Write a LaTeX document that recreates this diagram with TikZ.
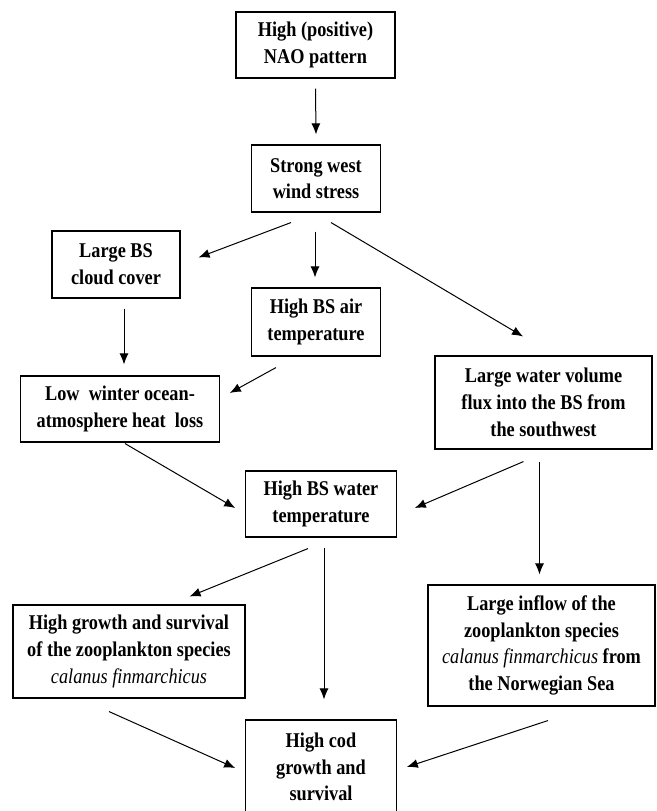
\documentclass[tikz,border=0pt]{standalone}
\usepackage{fontspec}
\setmainfont{Liberation Serif}[FakeStretch=0.87]
\usetikzlibrary{arrows.meta,calc}
\begin{document}
\begin{tikzpicture}[x=1pt,y=-1pt,
  box/.style={draw, line width=1.1pt, inner sep=0pt, align=center,
    font=\fontsize{21}{26.7}\selectfont\bfseries},
  arr/.style={line width=1pt, -{Latex[length=11pt,width=9pt]}}]
\clip (0,0) rectangle (656,811);
\fill[white] (0,0) rectangle (656,811);
\node[box, minimum width=159pt, minimum height=66pt] (nao) at (315.5,45) {High (positive)\\NAO pattern};
\node[box, minimum width=128.5pt, minimum height=67pt] (ws) at (316,178.5) {Strong west\\wind stress};
\node[box, minimum width=128pt, minimum height=67pt] (cloud) at (116,264.5) {Large BS\\cloud cover};
\node[box, minimum width=128.5pt, minimum height=68pt] (air) at (316,322) {High BS air\\temperature};
\node[box, minimum width=199.5pt, minimum height=66pt] (low) at (120,409) {Low\ \ winter ocean-\\atmosphere heat\ \ loss};
\node[box, minimum width=217pt, minimum height=93pt] (wv) at (543.5,402.5) {Large water volume\\flux into the BS from\\the southwest};
\node[box, minimum width=151.5pt, minimum height=66pt] (wt) at (321,504) {High BS water\\temperature};
\node[box, minimum width=232pt, minimum height=93pt] (gr) at (129,651.5) {High growth and survival\\of the zooplankton species\\{\mdseries\itshape calanus finmarchicus}};
\node[box, minimum width=227pt, minimum height=121pt] (inf) at (541.5,645.5) {Large inflow of the\\zooplankton species\\{\mdseries\itshape calanus finmarchicus} from\\the Norwegian Sea};
\node[box, minimum width=151.5pt, minimum height=94pt] (cod) at (321,767) {High cod\\growth and\\survival};
\draw[arr] ($(nao.south)+(0,10)$) -- ($(ws.north)+(0,-10)$);
\draw[arr] ($(ws.south)+(-25,10)$) -- ($(cloud.north east)+(18,27)$);
\draw[arr] ($(ws.south)+(-1,19)$) -- ($(air.north)+(-1,-10)$);
\draw[arr] ($(ws.south)+(15,10)$) -- ($(wv.north)+(-20.5,-19)$);
\draw[arr] ($(cloud.south)+(8,10)$) -- ($(low.north)+(4,-11)$);
\draw[arr] ($(air.south)+(-40,11)$) -- ($(low.east)+(9.5,-16)$);
\draw[arr] ($(low.south)+(5,1)$) -- ($(wt.west)+(-9.5,4)$);
\draw[arr] ($(wv.south)+(-20,12)$) -- ($(wt.east)+(17.5,4)$);
\draw[arr] ($(wv.south)+(-4,12)$) -- ($(inf.north)+(-2,-10)$);
\draw[arr] ($(wt.south)+(-13,11)$) -- ($(gr.north east)+(-56,-8)$);
\draw[arr] ($(wt.south)+(3,10)$) -- ($(cod.north)+(3,-20)$);
\draw[arr] ($(gr.south)+(-20,13)$) -- ($(cod.west)+(-9.5,1)$);
\draw[arr] ($(inf.south)+(6.5,14)$) -- ($(cod.east)+(9.5,0)$);
\end{tikzpicture}
\end{document}
